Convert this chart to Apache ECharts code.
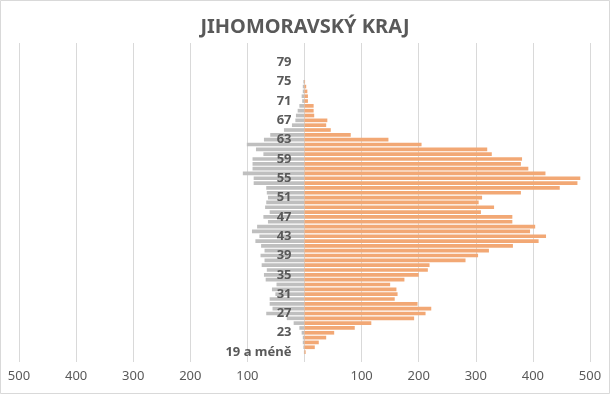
<!DOCTYPE html>
<html>
<head>
<meta charset="utf-8">
<script src="https://cdn.jsdelivr.net/npm/echarts@6/dist/echarts.min.js"></script>
<style>
html,body{margin:0;padding:0;background:#fff;}
#c{width:610px;height:394px;}
</style>
</head>
<body>
<div id="c"></div>
<script>
var title = 'JIHOMORAVSKÝ KRAJ';
var categories = ['19 a méně','20','21','22','23','24','25','26','27','28','29','30','31','32','33','34','35','36','37','38','39','40','41','42','43','44','45','46','47','48','49','50','51','52','53','54','55','56','57','58','59','60','61','62','63','64','65','66','67','68','69','70','71','72','73','74','75','76','77','78','79'];
// left (gray) series, magnitudes
var leftValues = [1,2,3,3,5,9,19,31,67,56,61,61,51,57,49,68,71,66,75,70,77,70,76,86,79,92,83,64,72,61,69,67,64,66,67,89,89,108,91,91,91,72,85,101,71,60,36,22,16,15,12,9,4,5,3,3,2,0,0,0,0];
// right (orange) series
var rightValues = [2,18,25,38,52,88,117,192,212,222,198,158,163,161,150,175,200,216,219,282,304,323,365,410,423,395,404,364,364,309,332,305,311,379,447,478,483,422,392,379,381,328,320,205,147,81,46,38,40,17,16,16,6,6,5,3,1,0,0,0,0];
var axisMin = -500, axisMax = 500, axisStep = 100;

var chart = echarts.init(document.getElementById('c'), null, {renderer:'canvas'});
var txt = '#595959';
var option = {
  animation: false,
  backgroundColor: '#fff',
  title: {
    text: title, left: 'center', top: 12,
    textStyle: {fontFamily: 'Noto Sans', fontSize: 20, fontWeight: 'bold', color: txt}
  },
  graphic: [{
    type: 'rect', shape: {x: 0.5, y: 0.5, width: 609, height: 393},
    style: {fill: 'none', stroke: '#d9d9d9', lineWidth: 1}, silent: true, z: -1
  }],
  grid: [
    {left: 19, right: 20, top: 43, bottom: 32, containLabel: false, outerBoundsMode: 'none'},
    {left: 19, right: 20, top: 60, height: 294.5, containLabel: false, outerBoundsMode: 'none'}
  ],
  xAxis: [
    {gridIndex: 0, type: 'value', min: axisMin, max: axisMax, interval: axisStep,
     axisLine: {show: false}, axisTick: {show: false},
     splitLine: {lineStyle: {color: '#d9d9d9', width: 1}},
     axisLabel: {color: txt, fontFamily: 'Noto Sans', fontSize: 13, margin: 8,
       formatter: function(v){ return v === 0 ? '' : String(Math.abs(v)); }}},
    {gridIndex: 1, type: 'value', min: axisMin, max: axisMax, interval: axisStep, show: false,
     splitLine: {show: false}}
  ],
  yAxis: [
    {gridIndex: 0, type: 'category', data: [''], show: false},
    {gridIndex: 1, type: 'category', data: categories, z: 10, position: 'left', offset: -285.5,
     axisLine: {show: false, onZero: false}, axisTick: {show: false},
     axisLabel: {interval: 3, margin: 13, color: txt, fontFamily: 'Noto Sans', fontSize: 13, fontWeight: 'bold'}}
  ],
  series: [
    {type: 'bar', xAxisIndex: 1, yAxisIndex: 1, stack: 'p', barCategoryGap: '24%',
     itemStyle: {color: '#bfbfbf'},
     data: leftValues.map(function(v){ return -v; })},
    {type: 'bar', xAxisIndex: 1, yAxisIndex: 1, stack: 'p', barCategoryGap: '24%',
     itemStyle: {color: '#f2a875'},
     data: rightValues}
  ]
};
chart.setOption(option);
</script>
</body>
</html>
